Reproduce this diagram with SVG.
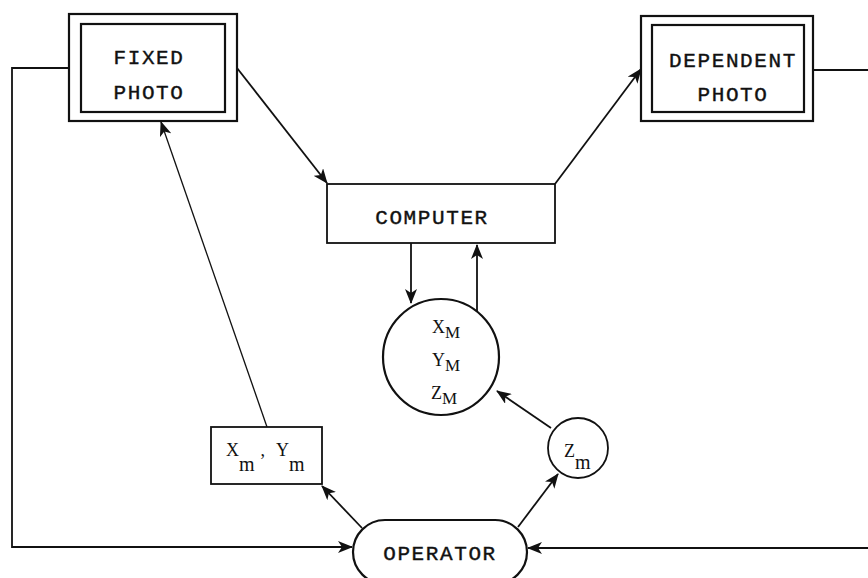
<svg xmlns="http://www.w3.org/2000/svg" width="868" height="578" viewBox="0 0 868 578">
<style>
.box{fill:#fff;stroke:#111;stroke-width:2.2}
.t{font-family:"Liberation Mono","DejaVu Sans Mono",monospace;font-size:21px;letter-spacing:1.6px;fill:#111;text-anchor:middle;stroke:#111;stroke-width:0.4}
.m{font-family:"Liberation Serif","DejaVu Serif",serif;font-size:18px;fill:#111}
.c{fill:none;stroke:#111;stroke-width:1.8}
.thin{fill:none;stroke:#111;stroke-width:1.3}
</style>
<defs>
<marker id="ah" viewBox="0 0 15 12" refX="14" refY="6" markerWidth="15" markerHeight="12" markerUnits="userSpaceOnUse" orient="auto">
<path d="M0,0 L15,6 L0,12 L4,6 Z" fill="#111"/>
</marker>
</defs>
<g id="connectors">
<path class="c" d="M69,68 H12 V547 H352" marker-end="url(#ah)"/>
<path class="c" d="M813,70 H868"/>
<path class="c" d="M868,548 H528" marker-end="url(#ah)"/>
<path class="c" d="M237,68 L327,183" marker-end="url(#ah)"/>
<path class="c" d="M555,184 L641,69" marker-end="url(#ah)"/>
<path class="c" d="M411,243 V303" marker-end="url(#ah)"/>
<path class="c" d="M477,313 V245" marker-end="url(#ah)"/>
<path class="c" d="M551,428 L497,391" marker-end="url(#ah)"/>
<path class="thin" d="M267,427 L161,122" marker-end="url(#ah)"/>
<path class="c" d="M362,528 L322,486" marker-end="url(#ah)"/>
<path class="c" d="M518,527 L558,474" marker-end="url(#ah)"/>
</g>
<g id="fixed-photo">
<rect class="box" x="69" y="14" width="168" height="107"/>
<rect class="box" x="81" y="24" width="144" height="88"/>
<text class="t" x="149" y="64">FIXED</text>
<text class="t" x="149" y="99">PHOTO</text>
</g>
<g id="dependent-photo">
<rect class="box" x="641" y="16" width="172" height="105"/>
<rect class="box" x="652" y="25" width="152" height="87"/>
<text class="t" x="733" y="67">DEPENDENT</text>
<text class="t" x="733" y="101">PHOTO</text>
</g>
<g id="computer">
<rect class="box" x="327" y="184" width="228" height="59" style="stroke-width:1.8"/>
<text class="t" x="432" y="224">COMPUTER</text>
</g>
<g id="model-coords">
<circle class="box" cx="441" cy="357" r="58"/>
<text class="m" x="432" y="333">X<tspan dy="5" font-size="17">M</tspan></text>
<text class="m" x="432" y="366">Y<tspan dy="5" font-size="17">M</tspan></text>
<text class="m" x="431" y="399">Z<tspan dy="5" font-size="17">M</tspan></text>
</g>
<g id="zm">
<circle class="box" cx="578" cy="448" r="30" style="stroke-width:1.8"/>
<text class="m" x="564" y="457">Z<tspan dy="12" font-size="20">m</tspan></text>
</g>
<g id="xm-ym">
<rect class="box" x="211" y="427" width="111" height="57" style="stroke-width:1.8"/>
<text class="m" x="226" y="456">X<tspan dy="15" font-size="20">m</tspan><tspan dy="-15" dx="6">,</tspan><tspan dx="11">Y</tspan><tspan dy="15" font-size="20">m</tspan></text>
</g>
<g id="operator">
<rect class="box" x="353" y="520" width="174" height="64" rx="32"/>
<text class="t" x="440" y="560">OPERATOR</text>
</g>
</svg>
